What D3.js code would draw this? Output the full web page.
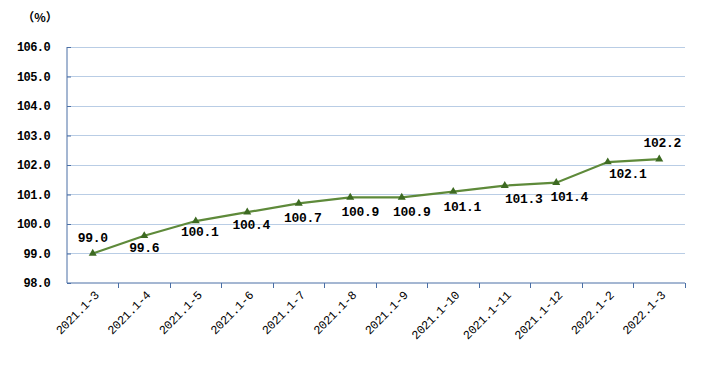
<!DOCTYPE html>
<html><head><meta charset="utf-8">
<script src="https://cdn.jsdelivr.net/npm/d3@7"></script>
<style>body{margin:0;background:#fff;}svg{display:block;}</style>
</head><body>
<script>
const categories = ["2021.1-3","2021.1-4","2021.1-5","2021.1-6","2021.1-7","2021.1-8","2021.1-9","2021.1-10","2021.1-11","2021.1-12","2022.1-2","2022.1-3"];
const values = [99.0,99.6,100.1,100.4,100.7,100.9,100.9,101.1,101.3,101.4,102.1,102.2];
const valueLabels = ["99.0","99.6","100.1","100.4","100.7","100.9","100.9","101.1","101.3","101.4","102.1","102.2"];
const yTicks = [98,99,100,101,102,103,104,105,106];
const yTickLabels = ["98.0","99.0","100.0","101.0","102.0","103.0","104.0","105.0","106.0"];
const unitLabel = "（%）";
// label placement offsets (px) relative to point
const labelDx = [0,0,4,4,4,10,10,9,19,13,20,3];
const labelDy = [-12,16,15,17,19,19,19,19,17,18,16,-12];

const W=719,H=371;
const m={left:67,right:34,top:47,bottom:88};
const svg=d3.select("body").append("svg").attr("width",W).attr("height",H);
const x=d3.scaleBand().domain(categories).range([m.left,W-m.right]);
const y=d3.scaleLinear().domain([98,106]).range([H-m.bottom,m.top]);
const axisColor="#4a6fa5", gridColor="#b9cde5";
const mono="Liberation Mono, DejaVu Sans Mono, monospace";

// gridlines
svg.append("g").selectAll("line").data(yTicks.filter(d=>d>98)).join("line")
  .attr("x1",m.left).attr("x2",W-m.right).attr("y1",d=>y(d)).attr("y2",d=>y(d))
  .attr("stroke",gridColor).attr("stroke-width",1).attr("shape-rendering","crispEdges");

// y axis
const ya=svg.append("g").attr("transform",`translate(${m.left},0)`)
  .call(d3.axisRight(y).tickValues(yTicks).tickSize(4).tickFormat((d,i)=>""));
ya.select(".domain").attr("stroke",axisColor).attr("d",`M0,${y(106)}V${y(98)}`);
ya.selectAll(".tick line").attr("stroke",axisColor);
svg.append("g").selectAll("text").data(yTicks).join("text")
  .attr("x",50).attr("y",d=>y(d)).attr("dy","0.36em").attr("text-anchor","end")
  .attr("font-family",mono).attr("font-weight","bold").attr("letter-spacing",-0.6)
  .attr("font-size",12).attr("fill","#000").text((d,i)=>yTickLabels[i]);

// x axis
const xa=svg.append("g").attr("transform",`translate(0,${y(98)})`)
  .call(d3.axisBottom(x).tickSize(0).tickFormat(""));
xa.select(".domain").attr("stroke",axisColor).attr("d",`M${m.left},0H${W-m.right}`);
xa.selectAll(".tick").remove();
const bounds=categories.map(c=>x(c)).concat([x(categories[categories.length-1])+x.bandwidth()]).slice(1);
svg.append("g").selectAll("line").data(bounds).join("line")
  .attr("x1",d=>d).attr("x2",d=>d).attr("y1",y(98)).attr("y2",y(98)+5)
  .attr("stroke",axisColor).attr("shape-rendering","crispEdges");
svg.append("g").selectAll("text").data(categories).join("text")
  .attr("transform",d=>`translate(${x(d)+x.bandwidth()/2+4},${y(98)+10}) rotate(-45)`)
  .attr("text-anchor","end").attr("dy","0.35em")
  .attr("font-family",mono).attr("letter-spacing",-0.3)
  .attr("font-size",12).attr("fill","#000").text(d=>d);

// unit
svg.append("text").attr("x",40).attr("y",22).attr("text-anchor","middle")
  .attr("font-family","Noto Sans CJK SC, sans-serif").attr("font-weight","bold")
  .attr("font-size",12).text(unitLabel);

// line
const cx=(d,i)=>x(categories[i])+x.bandwidth()/2;
const line=d3.line().x((d,i)=>cx(d,i)).y(d=>y(d));
svg.append("path").datum(values).attr("d",line).attr("fill","none")
  .attr("stroke","#5e8a3a").attr("stroke-width",2.2);
svg.append("g").selectAll("path").data(values).join("path")
  .attr("d",d3.symbol(d3.symbolTriangle,28))
  .attr("transform",(d,i)=>`translate(${cx(d,i)},${y(d)})`)
  .attr("fill","#3d6a22");

// labels
svg.append("g").selectAll("text").data(values).join("text")
  .attr("x",(d,i)=>cx(d,i)+labelDx[i]).attr("y",(d,i)=>y(d)+labelDy[i])
  .attr("text-anchor","middle")
  .attr("font-family",mono).attr("font-weight","bold").attr("letter-spacing",-0.3)
  .attr("font-size",13).attr("fill","#000").text((d,i)=>valueLabels[i]);
</script>
</body></html>
